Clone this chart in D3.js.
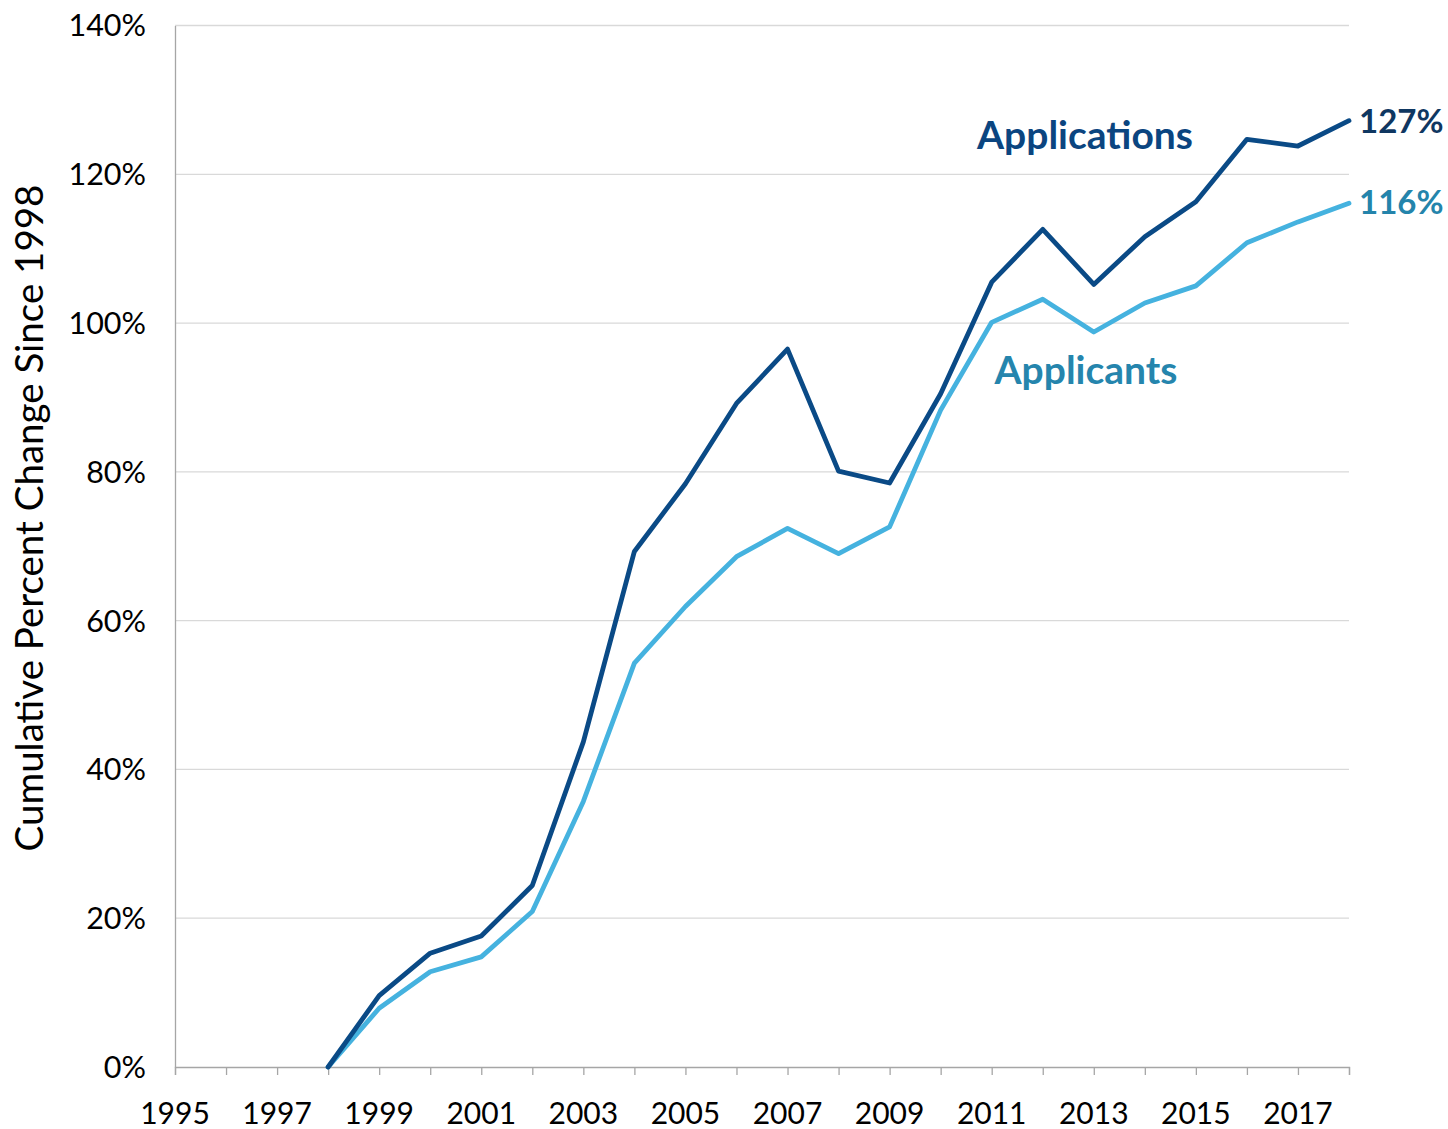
<!DOCTYPE html>
<html>
<head>
<meta charset="utf-8">
<script src="https://cdn.jsdelivr.net/npm/d3@7"></script>
<style>
  html, body { margin: 0; padding: 0; background: #fff; }
  svg { display: block; font-family: Lato, "Open Sans", sans-serif; }
</style>
</head>
<body>
<svg id="chart" width="1448" height="1129"></svg>
<script>
const years = [1998,1999,2000,2001,2002,2003,2004,2005,2006,2007,2008,2009,2010,2011,2012,2013,2014,2015,2016,2017,2018];
const applications = [0,9.6,15.3,17.6,24.4,43.7,69.3,78.4,89.2,96.5,80.1,78.5,90.5,105.5,112.6,105.2,111.6,116.3,124.7,123.8,127.2];
const applicants = [0,7.9,12.8,14.8,20.9,35.7,54.3,61.9,68.6,72.4,69.0,72.6,88.3,100.1,103.2,98.8,102.7,105.0,110.8,113.6,116.1];
const xTickLabels = [1995,1997,1999,2001,2003,2005,2007,2009,2011,2013,2015,2017];
const yTickValues = [0,20,40,60,80,100,120,140];
const seriesNames = ["Applications","Applicants"];
const endLabels = ["127%","116%"];

const svg = d3.select("#chart");
const x = d3.scaleLinear().domain([1995, 2018]).range([175, 1349]);
const y = d3.scaleLinear().domain([0, 140]).range([1067, 25.5]);

// gridlines
svg.append("g").selectAll("line").data(yTickValues.filter(d => d > 0)).join("line")
  .attr("x1", x(1995)).attr("x2", x(2018))
  .attr("y1", d => y(d)).attr("y2", d => y(d))
  .attr("stroke", "#d9d9d9").attr("stroke-width", 1.3);

// y axis
const yAxis = svg.append("g").attr("transform", `translate(${x(1995)},0)`)
  .call(d3.axisLeft(y).tickValues(yTickValues).tickSize(0).tickPadding(29).tickFormat(d => d + "%"));
yAxis.select(".domain").attr("stroke", "#a6a6a6").attr("stroke-width", 1.3);
yAxis.selectAll("text").attr("font-size", 30.5).attr("fill", "#000").attr("font-family", "Lato").attr("dy", "0.34em");

// x axis
const xAxis = svg.append("g").attr("transform", `translate(0,${y(0)})`)
  .call(d3.axisBottom(x).tickValues(d3.range(1995, 2019)).tickSize(8).tickPadding(0).tickFormat(() => ""));
xAxis.select(".domain").attr("stroke", "#a6a6a6").attr("stroke-width", 1.3);
xAxis.selectAll(".tick line").attr("stroke", "#a6a6a6").attr("stroke-width", 1.3);
svg.append("g").selectAll("text").data(xTickLabels).join("text")
  .attr("x", d => x(d)).attr("y", 1124)
  .attr("text-anchor", "middle").attr("font-size", 30).attr("fill", "#000")
  .text(d => d);

// y axis title
svg.append("text")
  .attr("transform", "translate(43,518) rotate(-90)")
  .attr("text-anchor", "middle").attr("font-size", 38.5).attr("fill", "#000")
  .text("Cumulative Percent Change Since 1998");

// lines
const line = d3.line().x((d, i) => x(years[i])).y(d => y(d));
svg.append("path").datum(applicants).attr("d", line)
  .attr("fill", "none").attr("stroke", "#45b2df").attr("stroke-width", 4.8).attr("stroke-linejoin", "round").attr("stroke-linecap", "round");
svg.append("path").datum(applications).attr("d", line)
  .attr("fill", "none").attr("stroke", "#0a4a86").attr("stroke-width", 4.8).attr("stroke-linejoin", "round").attr("stroke-linecap", "round");

// series labels
svg.append("text").attr("x", 1085).attr("y", 149).attr("text-anchor", "middle")
  .attr("font-size", 39).attr("font-weight", "bold").attr("fill", "#0b4580").text(seriesNames[0]);
svg.append("text").attr("x", 1086).attr("y", 384).attr("text-anchor", "middle")
  .attr("font-size", 39).attr("font-weight", "bold").attr("fill", "#2585ad").text(seriesNames[1]);

// end labels
svg.append("text").attr("x", x(2018) + 10).attr("y", y(applications[applications.length-1]) + 12)
  .attr("font-size", 33).attr("font-weight", "bold").attr("fill", "#0f3761").text(endLabels[0]);
svg.append("text").attr("x", x(2018) + 10).attr("y", y(applicants[applicants.length-1]) + 11)
  .attr("font-size", 33).attr("font-weight", "bold").attr("fill", "#2484ab").text(endLabels[1]);
</script>
</body>
</html>
